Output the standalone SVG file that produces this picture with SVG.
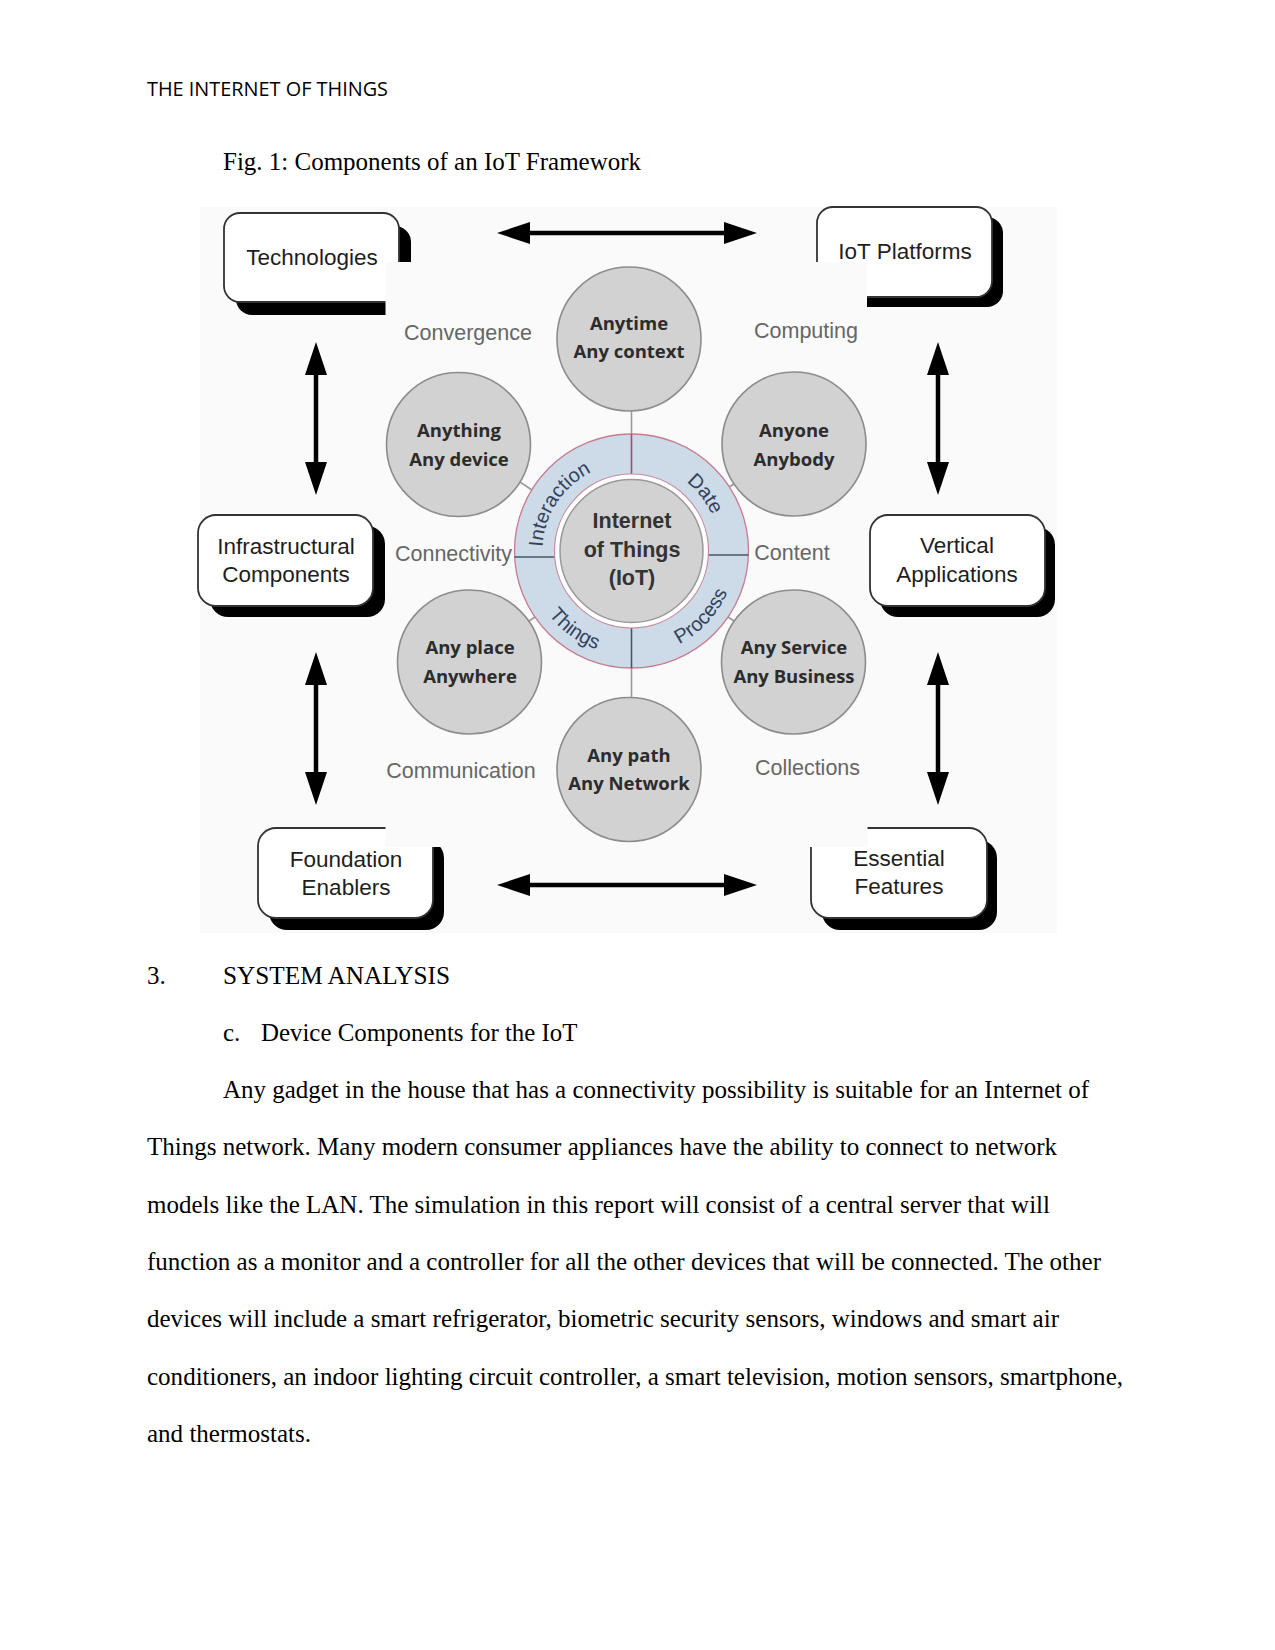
<svg xmlns="http://www.w3.org/2000/svg" width="1275" height="1650" viewBox="0 0 1275 1650">
<defs>
<style>
.page{font-family:"Liberation Serif","Times New Roman",serif;font-size:25px;fill:#000}
.hdr{font-family:"Open Sans","Liberation Sans",sans-serif;font-size:20px;fill:#000}
.shadow{fill:#000}
.box{fill:#fff;stroke:#333;stroke-width:1.8}
.gap{fill:#fafafa}
.btxt{font-family:"Liberation Sans",Arial,sans-serif;font-size:22.5px;fill:#1e1e1e;text-anchor:middle}
.circ{fill:#d2d2d2;stroke:#8c8c8c;stroke-width:1.6}
.ctxt{font-family:"Open Sans","Noto Sans",sans-serif;font-weight:bold;font-size:18.5px;fill:#2c2c2c;text-anchor:middle}
.lbl{font-family:"Liberation Sans",Arial,sans-serif;font-size:21.5px;fill:#666;text-anchor:middle}
.arr{stroke:#000;stroke-width:4.5;fill:none;marker-start:url(#ah);marker-end:url(#ah)}
.stub{stroke:#9a9a9a;stroke-width:1.6}
.ring{font-family:"Liberation Sans",Arial,sans-serif;font-size:20px;fill:#34425c}
.core{font-family:"Liberation Sans",Arial,sans-serif;font-weight:bold;font-size:21.5px;fill:#333;text-anchor:middle}
</style>
<marker id="ah" viewBox="0 0 33 22" refX="3" refY="11" markerWidth="33" markerHeight="22" markerUnits="userSpaceOnUse" orient="auto-start-reverse">
<path d="M0,0 L33,11 L0,22 Z" fill="#000"/>
</marker>
<path id="pInteraction" d="M545.5,574 A88,88 0 0 1 617.6,464"/>
<path id="pDate" d="M664.8,469.5 A88,88 0 0 1 719,538.8"/>
<path id="pThings" d="M533.3,586.8 A104.5,104.5 0 0 0 627.9,655.4"/>
<path id="pProcess" d="M655,652.8 A104.5,104.5 0 0 0 734.7,567.3"/>
</defs>
<rect width="1275" height="1650" fill="#fff"/>

<text class="hdr" x="147" y="96" textLength="241" lengthAdjust="spacingAndGlyphs">THE INTERNET OF THINGS</text>
<text class="page" x="223" y="170" textLength="418" lengthAdjust="spacingAndGlyphs">Fig. 1: Components of an IoT Framework</text>

<rect x="200" y="207" width="857" height="726" fill="#fafafa"/>

<g id="connectors">
<line class="arr" x1="527" y1="233" x2="727" y2="233"/>
<line class="arr" x1="527" y1="885" x2="727" y2="885"/>
<line class="arr" x1="316" y1="372" x2="316" y2="465"/>
<line class="arr" x1="938" y1="372" x2="938" y2="465"/>
<line class="arr" x1="316" y1="682" x2="316" y2="775"/>
<line class="arr" x1="938" y1="682" x2="938" y2="775"/>
<line class="stub" x1="631.5" y1="434" x2="631.5" y2="411"/>
<line class="stub" x1="631.5" y1="668" x2="631.5" y2="697"/>
<line class="stub" x1="532" y1="490" x2="520" y2="482"/>
<line class="stub" x1="729" y1="487" x2="734" y2="484"/>
<line class="stub" x1="535" y1="617" x2="529" y2="621"/>
<line class="stub" x1="728" y1="617" x2="734" y2="621"/>
</g>

<g id="technologies">
<rect class="shadow" x="236" y="226" width="175" height="89" rx="16"/>
<rect class="box" x="224" y="213" width="175" height="89" rx="16"/>
<rect class="gap" x="385.5" y="262" width="30" height="58"/>
<text class="btxt" x="312" y="265">Technologies</text>
</g>

<g id="iot-platforms">
<rect class="shadow" x="828" y="217" width="175" height="90" rx="16"/>
<rect class="box" x="817" y="207" width="175" height="90" rx="16"/>
<rect class="gap" x="810" y="262" width="57" height="50"/>
<text class="btxt" x="905" y="259">IoT Platforms</text>
</g>

<g id="infrastructural-components">
<rect class="shadow" x="210" y="526" width="175" height="91" rx="18"/>
<rect class="box" x="198" y="515" width="175" height="91" rx="18"/>
<text class="btxt" x="286" y="554">Infrastructural</text>
<text class="btxt" x="286" y="582">Components</text>
</g>

<g id="vertical-applications">
<rect class="shadow" x="880" y="527" width="175" height="90" rx="18"/>
<rect class="box" x="870" y="515" width="175" height="91" rx="18"/>
<text class="btxt" x="957" y="553">Vertical</text>
<text class="btxt" x="957" y="582">Applications</text>
</g>

<g id="foundation-enablers">
<rect class="shadow" x="269" y="840" width="175" height="90" rx="18"/>
<rect class="box" x="258" y="828" width="175" height="90" rx="18"/>
<rect class="gap" x="385.5" y="820" width="65" height="27"/>
<text class="btxt" x="346" y="867">Foundation</text>
<text class="btxt" x="346" y="895">Enablers</text>
</g>

<g id="essential-features">
<rect class="shadow" x="822" y="840" width="175" height="90" rx="18"/>
<rect class="box" x="811" y="828" width="176" height="90" rx="18"/>
<rect class="gap" x="805" y="820" width="62.5" height="27"/>
<text class="btxt" x="899" y="866">Essential</text>
<text class="btxt" x="899" y="894">Features</text>
</g>

<g id="labels">
<text class="lbl" x="468" y="340">Convergence</text>
<text class="lbl" x="806" y="338">Computing</text>
<text class="lbl" x="453.5" y="561">Connectivity</text>
<text class="lbl" x="792" y="560">Content</text>
<text class="lbl" x="461" y="778">Communication</text>
<text class="lbl" x="807.5" y="775">Collections</text>
</g>

<g id="anytime">
<circle class="circ" cx="629" cy="339" r="72"/>
<text class="ctxt" x="629" y="330">Anytime</text>
<text class="ctxt" x="629" y="358">Any context</text>
</g>
<g id="anything">
<circle class="circ" cx="458.5" cy="444.5" r="72"/>
<text class="ctxt" x="459" y="437">Anything</text>
<text class="ctxt" x="459" y="466">Any device</text>
</g>
<g id="anyone">
<circle class="circ" cx="794" cy="444" r="72"/>
<text class="ctxt" x="794" y="437">Anyone</text>
<text class="ctxt" x="794" y="466">Anybody</text>
</g>
<g id="any-place">
<circle class="circ" cx="469.5" cy="662" r="72"/>
<text class="ctxt" x="470" y="654">Any place</text>
<text class="ctxt" x="470" y="683">Anywhere</text>
</g>
<g id="any-service">
<circle class="circ" cx="793.5" cy="662" r="72"/>
<text class="ctxt" x="794" y="654">Any Service</text>
<text class="ctxt" x="794" y="683">Any Business</text>
</g>
<g id="any-path">
<circle class="circ" cx="629" cy="769.5" r="72"/>
<text class="ctxt" x="629" y="762">Any path</text>
<text class="ctxt" x="629" y="790">Any Network</text>
</g>

<g id="iot-core">
<circle cx="631.5" cy="551" r="117" fill="#cddbe9" stroke="#c77b8e" stroke-width="1.3"/>
<line x1="631.5" y1="434" x2="631.5" y2="474" stroke="#a0506a" stroke-width="1.6"/>
<line x1="631.5" y1="628" x2="631.5" y2="668" stroke="#4a5568" stroke-width="1.6"/>
<line x1="514.5" y1="557" x2="554.5" y2="557" stroke="#4a5568" stroke-width="1.6"/>
<line x1="708.5" y1="555" x2="748.5" y2="555" stroke="#4a5568" stroke-width="1.6"/>
<circle cx="631.5" cy="551" r="77" fill="#fff" stroke="#c98a98" stroke-width="1.2"/>
<circle cx="631.5" cy="551" r="71.5" fill="#d2d2d2" stroke="#999" stroke-width="1.5"/>
<text class="ring"><textPath href="#pInteraction" startOffset="50%" text-anchor="middle">Interaction</textPath></text>
<text class="ring"><textPath href="#pDate" startOffset="50%" text-anchor="middle">Date</textPath></text>
<text class="ring"><textPath href="#pThings" startOffset="50%" text-anchor="middle">Things</textPath></text>
<text class="ring"><textPath href="#pProcess" startOffset="50%" text-anchor="middle">Process</textPath></text>
<text class="core" x="632" y="528">Internet</text>
<text class="core" x="632" y="557">of Things</text>
<text class="core" x="632" y="585">(IoT)</text>
</g>

<text class="page" x="147" y="983.5">3.</text>
<text class="page" x="223" y="983.5" textLength="227" lengthAdjust="spacingAndGlyphs">SYSTEM ANALYSIS</text>
<text class="page" x="223" y="1040.8">c.</text>
<text class="page" x="261" y="1040.8" textLength="316.5" lengthAdjust="spacingAndGlyphs">Device Components for the IoT</text>
<text class="page" x="223" y="1098" textLength="866" lengthAdjust="spacingAndGlyphs">Any gadget in the house that has a connectivity possibility is suitable for an Internet of</text>
<text class="page" x="147" y="1155.3" textLength="910" lengthAdjust="spacingAndGlyphs">Things network. Many modern consumer appliances have the ability to connect to network</text>
<text class="page" x="147" y="1212.6" textLength="903" lengthAdjust="spacingAndGlyphs">models like the LAN. The simulation in this report will consist of a central server that will</text>
<text class="page" x="147" y="1269.9" textLength="954" lengthAdjust="spacingAndGlyphs">function as a monitor and a controller for all the other devices that will be connected. The other</text>
<text class="page" x="147" y="1327.2" textLength="912" lengthAdjust="spacingAndGlyphs">devices will include a smart refrigerator, biometric security sensors, windows and smart air</text>
<text class="page" x="147" y="1384.5" textLength="976" lengthAdjust="spacingAndGlyphs">conditioners, an indoor lighting circuit controller, a smart television, motion sensors, smartphone,</text>
<text class="page" x="147" y="1441.8" textLength="164" lengthAdjust="spacingAndGlyphs">and thermostats.</text>
</svg>
